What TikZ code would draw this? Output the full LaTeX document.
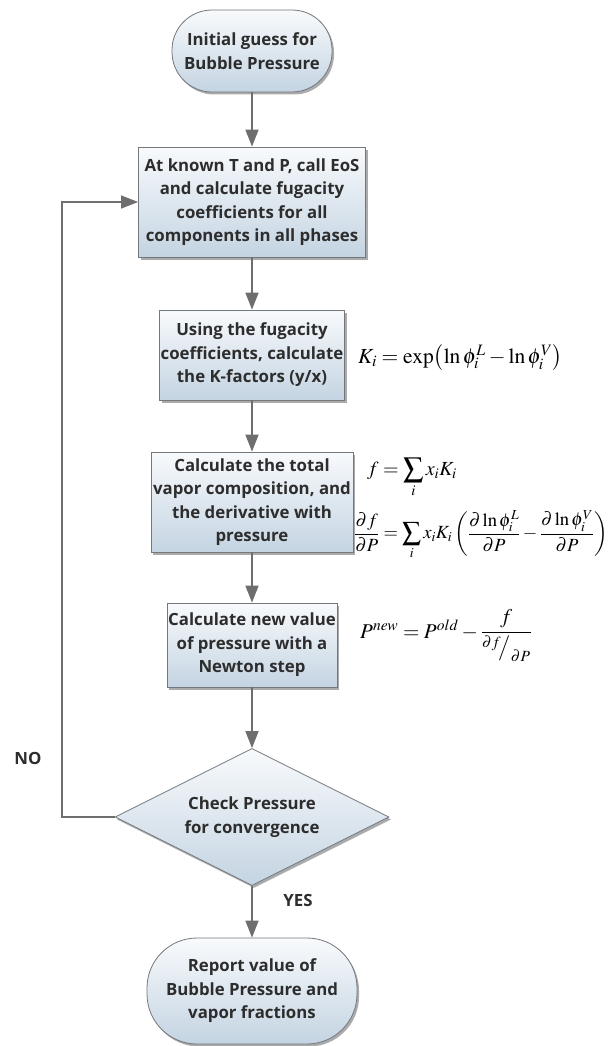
\documentclass[tikz,border=0pt]{standalone}
\usepackage{amsmath}
\usepackage{mathptmx}
\usepackage{fontspec}
\setmainfont{Liberation Serif}
\newfontfamily\uifont{Open Sans}
\usetikzlibrary{shapes.geometric,arrows.meta,shadows}
\definecolor{txt}{RGB}{45,45,45}
\definecolor{edge}{RGB}{115,120,125}
\definecolor{boxtop}{RGB}{248,250,252}
\definecolor{boxbot}{RGB}{196,212,226}
\definecolor{linec}{RGB}{110,110,110}
\tikzset{
  base/.style={draw=edge, line width=0.8pt, top color=boxtop, bottom color=boxbot,
    text=txt, align=center, inner sep=0pt,
    font=\uifont\bfseries\fontsize{16.8}{23.5}\selectfont,
    drop shadow={shadow xshift=2pt, shadow yshift=-2.5pt, opacity=0.55, fill=black!60}},
  procbox/.style={base, rectangle},
  termbox/.style={base, rectangle, rounded corners=40pt},
  decbox/.style={base, diamond, aspect=2},
  flow/.style={draw=linec, line width=1.6pt, -{Triangle[length=17pt,width=13pt]}},
  loopline/.style={draw=linec, line width=1.2pt, -{Triangle[length=17pt,width=13pt]}},
  lbl/.style={text=txt, font=\uifont\bfseries\fontsize{16.8}{20}\selectfont},
  eq/.style={inner sep=0pt}
}
\begin{document}
\begin{tikzpicture}[x=1pt,y=-1pt]
\useasboundingbox (0,0) rectangle (612,1046);
\fill[white] (0,0) rectangle (612,1046);

\node[termbox, minimum width=160pt, minimum height=82pt] (start) at (252,51) {Initial guess for\\Bubble Pressure};
\node[procbox, minimum width=227pt, minimum height=110pt] (eos) at (252,202) {At known T and P, call EoS\\and calculate fugacity\\coefficients for all\\components in all phases};
\node[procbox, minimum width=185pt, minimum height=90pt] (kfac) at (252,355) {Using the fugacity\\coefficients, calculate\\the K-factors (y/x)};
\node[procbox, minimum width=202pt, minimum height=100pt] (vap) at (252,502) {Calculate the total\\vapor composition, and\\the derivative with\\pressure};
\node[procbox, minimum width=170pt, minimum height=84pt] (newt) at (252,645) {Calculate new value\\of pressure with a\\Newton step};
\node[decbox, minimum width=274pt, minimum height=137pt] (chk) at (252,817) {Check Pressure\\for convergence};
\node[termbox, minimum width=210pt, minimum height=106pt, rounded corners=50pt] (rep) at (252,991) {Report value of\\Bubble Pressure and\\vapor fractions};

\draw[flow] (start) -- (eos);
\draw[flow] (eos) -- (kfac);
\draw[flow] (kfac) -- (vap);
\draw[flow] (vap) -- (newt);
\draw[flow] (newt) -- (chk);
\draw[flow] (chk) -- (rep);
\coordinate (lc) at (62,817);
\draw[loopline] (chk.west) -- (lc) |- (eos.west);

\node[lbl] (no) at (28,758) {NO};
\node[lbl] (yes) at (298,900) {YES};

\node[eq, anchor=base west, font=\fontsize{21.5}{24}\selectfont] (eqk) at (358,363) {$K_i = \exp\bigl(\ln\phi_i^L - \ln\phi_i^V\bigr)$};
\node[eq, anchor=base west, font=\fontsize{20}{24}\selectfont] (eqf) at (367,475) {$\displaystyle f = \sum_i x_i K_i$};
\node[eq, anchor=west, font=\fontsize{18.6}{21}\selectfont] (eqd) at (354,535) {$\displaystyle\frac{\partial f}{\partial P} = \sum_i x_i K_i \left(\frac{\partial \ln\phi_i^L}{\partial P} - \frac{\partial\ln\phi_i^V}{\partial P}\right)$};
\node[eq, anchor=base west, font=\fontsize{21}{24}\selectfont] (eqp) at (360,638) {$P^{new} = P^{old} - \dfrac{f}{{}^{\partial f}\!\big/_{\partial P}}$};
\end{tikzpicture}
\end{document}
